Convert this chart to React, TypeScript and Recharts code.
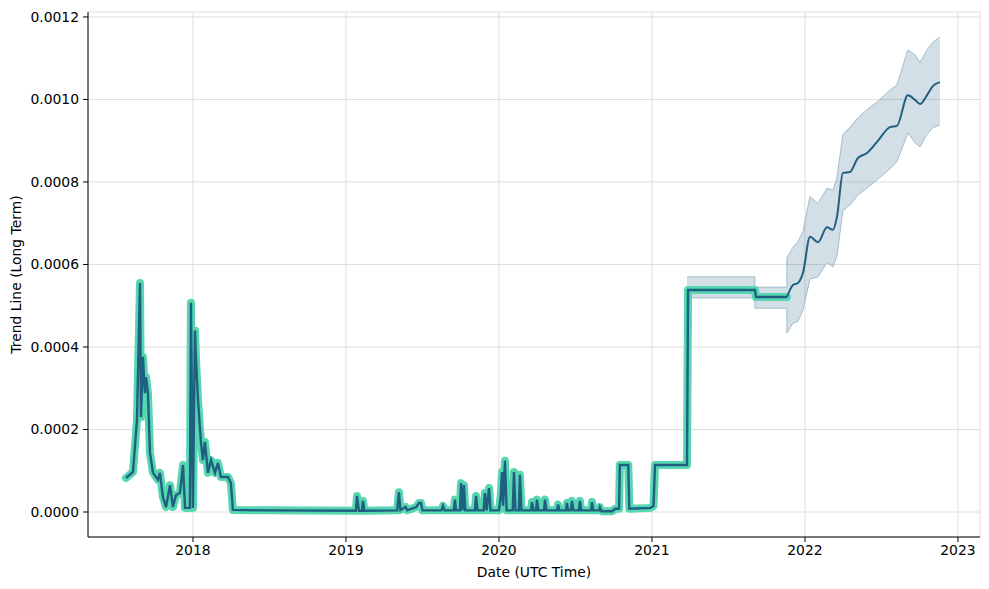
import React from 'react';
import { ComposedChart, Line, Area, XAxis, YAxis, CartesianGrid } from 'recharts';

// history of the long term trend, [year, value]
const history: [number, number][] = [
  [2017.562, 0.0000824], [2017.608, 0.000097], [2017.634, 0.000223], [2017.654, 0.000555],
  [2017.66, 0.00023], [2017.673, 0.000376], [2017.686, 0.000288], [2017.693, 0.000327],
  [2017.706, 0.000288], [2017.719, 0.000143], [2017.739, 0.000095], [2017.771, 0.000078],
  [2017.784, 0.000095], [2017.804, 0.000036], [2017.824, 0.000012], [2017.85, 0.000065],
  [2017.869, 0.000012], [2017.889, 0.000041], [2017.915, 0.000046], [2017.935, 0.000114],
  [2017.948, 0.00001], [2017.98, 0.00001], [2017.987, 0.000507], [2018.0, 0.00001],
  [2018.013, 0.00044], [2018.02, 0.000368], [2018.033, 0.000271], [2018.052, 0.00017],
  [2018.065, 0.000126], [2018.078, 0.00017], [2018.098, 0.000095], [2018.118, 0.000126],
  [2018.144, 0.000095], [2018.163, 0.000119], [2018.183, 0.000085], [2018.229, 0.000085],
  [2018.248, 0.00007], [2018.261, 0.000005], [2018.5, 0.000004], [2019.065, 0.000003],
  [2019.072, 0.000039], [2019.085, 0.000003], [2019.105, 0.000003], [2019.111, 0.000027],
  [2019.12, 0.000003], [2019.335, 0.000004], [2019.346, 0.000048], [2019.356, 0.000005],
  [2019.39, 0.000012], [2019.4, 0.000004], [2019.43, 0.000008], [2019.46, 0.000012],
  [2019.477, 0.000022], [2019.49, 0.000022], [2019.5, 0.000004], [2019.625, 0.000004],
  [2019.634, 0.000015], [2019.645, 0.000004], [2019.705, 0.000004], [2019.712, 0.00003],
  [2019.72, 0.000004], [2019.745, 0.000004], [2019.752, 0.00007], [2019.762, 0.000004],
  [2019.771, 0.000065], [2019.78, 0.000004], [2019.843, 0.000004], [2019.85, 0.000039],
  [2019.86, 0.000004], [2019.9, 0.000004], [2019.908, 0.000046], [2019.92, 0.000004],
  [2019.935, 0.000058], [2019.945, 0.000004], [2020.0, 0.000004], [2020.012, 0.00004],
  [2020.02, 0.000097], [2020.027, 0.000015], [2020.039, 0.000124], [2020.05, 0.000004],
  [2020.09, 0.000004], [2020.098, 0.000097], [2020.108, 0.000004], [2020.13, 0.000004],
  [2020.137, 0.00009], [2020.147, 0.000004], [2020.21, 0.000004], [2020.216, 0.000024],
  [2020.226, 0.000004], [2020.243, 0.000004], [2020.248, 0.00003], [2020.258, 0.000004],
  [2020.295, 0.000004], [2020.301, 0.00003], [2020.31, 0.000004], [2020.38, 0.000004],
  [2020.386, 0.000018], [2020.395, 0.000004], [2020.438, 0.000004], [2020.444, 0.000022],
  [2020.452, 0.000004], [2020.47, 0.000004], [2020.477, 0.000027], [2020.487, 0.000004],
  [2020.523, 0.000004], [2020.529, 0.000027], [2020.538, 0.000004], [2020.602, 0.000004],
  [2020.608, 0.000024], [2020.617, 0.000004], [2020.655, 0.000004], [2020.66, 0.000012],
  [2020.67, 0.000002], [2020.74, 0.000002], [2020.76, 0.000008], [2020.785, 0.000008],
  [2020.79, 0.000114], [2020.845, 0.000114], [2020.852, 0.000008], [2020.99, 0.00001],
  [2021.01, 0.000015], [2021.02, 0.000114], [2021.229, 0.000114], [2021.236, 0.000538],
  [2021.673, 0.000538], [2021.68, 0.000521], [2021.882, 0.000521],
];

// uncertainty band over the flat stretch, [year, low, high]
const flatBand: [number, number, number][] = [
  [2021.229, 0.000519, 0.00057],
  [2021.673, 0.000519, 0.00057],
  [2021.673, 0.000494, 0.000545],
  [2021.882, 0.000494, 0.000545],
];

// forecast
const forecastYears = [
  2021.882, 2021.922, 2021.954, 2021.987, 2022.033, 2022.085, 2022.144, 2022.183, 2022.209, 2022.248, 2022.294,
  2022.346, 2022.405, 2022.471, 2022.556, 2022.601, 2022.673, 2022.719, 2022.752, 2022.797, 2022.837, 2022.882,
];
const forecastMid = [
  0.000521, 0.00055, 0.000555, 0.00058, 0.000667, 0.000654, 0.00069, 0.000684, 0.000715, 0.000822, 0.000824,
  0.000858, 0.00087, 0.000897, 0.000933, 0.000936, 0.00101, 0.000999, 0.000989, 0.00101, 0.001033, 0.001042,
];
const forecastLow = [
  0.000434, 0.000458, 0.000462, 0.00049, 0.000565, 0.00057, 0.000605, 0.000594, 0.00062, 0.00073, 0.000744,
  0.000768, 0.000785, 0.000805, 0.000832, 0.00085, 0.000919, 0.000895, 0.000885, 0.000915, 0.000932, 0.000938,
];
const forecastHigh = [
  0.000616, 0.000642, 0.000655, 0.00068, 0.000765, 0.000748, 0.000785, 0.00078, 0.00081, 0.000915, 0.000933,
  0.000955, 0.000975, 0.000994, 0.001023, 0.001035, 0.00112, 0.001108, 0.00109, 0.00112, 0.001139, 0.001151,
];

const xTicks = [2018, 2019, 2020, 2021, 2022, 2023];
const yTicks = [0, 0.0002, 0.0004, 0.0006, 0.0008, 0.001, 0.0012];

const TEAL = '#56d6b1';
const DARK = '#1f5f80';
const FONT = 'DejaVu Sans';

const rows: any[] = [
  ...history.map(([x, v]) => ({ x, hist: v })),
  ...flatBand.map(([x, lo, hi]) => ({ x, band: [lo, hi] })),
  ...forecastYears.map((x, i) => ({ x, fc: forecastMid[i], band: [forecastLow[i], forecastHigh[i]] })),
];
const data = rows.map((r, i) => ({ ...r, i })).sort((a, b) => a.x - b.x || a.i - b.i);

const tickStyle = { fontSize: 13.9, fill: '#000', fontFamily: FONT };
const labelStyle = { fontSize: 13.9, fill: '#000', fontFamily: FONT };

export default function App() {
  return (
    <div style={{ position: 'absolute', left: 0, top: 0, width: 989, height: 589, background: '#fff' }}>
      <ComposedChart width={989} height={589} data={data} margin={{ top: 12, right: 9, bottom: 0, left: 0 }}>
        <CartesianGrid stroke="#dedede" />
        <XAxis
          dataKey="x"
          type="number"
          domain={[2017.314, 2023.144]}
          ticks={xTicks}
          allowDataOverflow
          height={52}
          stroke="#000"
          tickSize={5}
          tickMargin={3}
          tick={tickStyle}
          label={{ value: 'Date (UTC Time)', position: 'insideBottom', offset: 12, style: labelStyle }}
        />
        <XAxis xAxisId="top" orientation="top" type="number" domain={[2017.314, 2023.144]} height={0} tick={false} tickLine={false} stroke="#000" />
        <YAxis
          type="number"
          domain={[-0.0000606, 0.001212]}
          ticks={yTicks}
          allowDataOverflow
          width={88}
          stroke="#000"
          tickSize={5}
          tickMargin={4}
          tick={tickStyle}
          tickFormatter={(v: number) => v.toFixed(4)}
          label={{ value: 'Trend Line (Long Term)', angle: -90, position: 'insideLeft', offset: 16, style: { ...labelStyle, textAnchor: 'middle' } }}
        />
        <YAxis yAxisId="right" orientation="right" width={0} tick={false} tickLine={false} stroke="#000" />
        <Area
          dataKey="band"
          type="linear"
          stroke="#a3bccb"
          strokeWidth={1}
          fill={DARK}
          fillOpacity={0.2}
          connectNulls
          isAnimationActive={false}
          dot={false}
          activeDot={false}
        />
        <Line dataKey="hist" type="linear" stroke={TEAL} strokeWidth={8} strokeLinejoin="round" strokeLinecap="round" dot={false} activeDot={false} connectNulls isAnimationActive={false} />
        <Line dataKey="hist" type="linear" stroke={DARK} strokeWidth={2.4} dot={false} activeDot={false} connectNulls isAnimationActive={false} />
        <Line dataKey="fc" type="monotone" stroke={DARK} strokeWidth={2} dot={false} activeDot={false} connectNulls isAnimationActive={false} />
      </ComposedChart>
    </div>
  );
}
